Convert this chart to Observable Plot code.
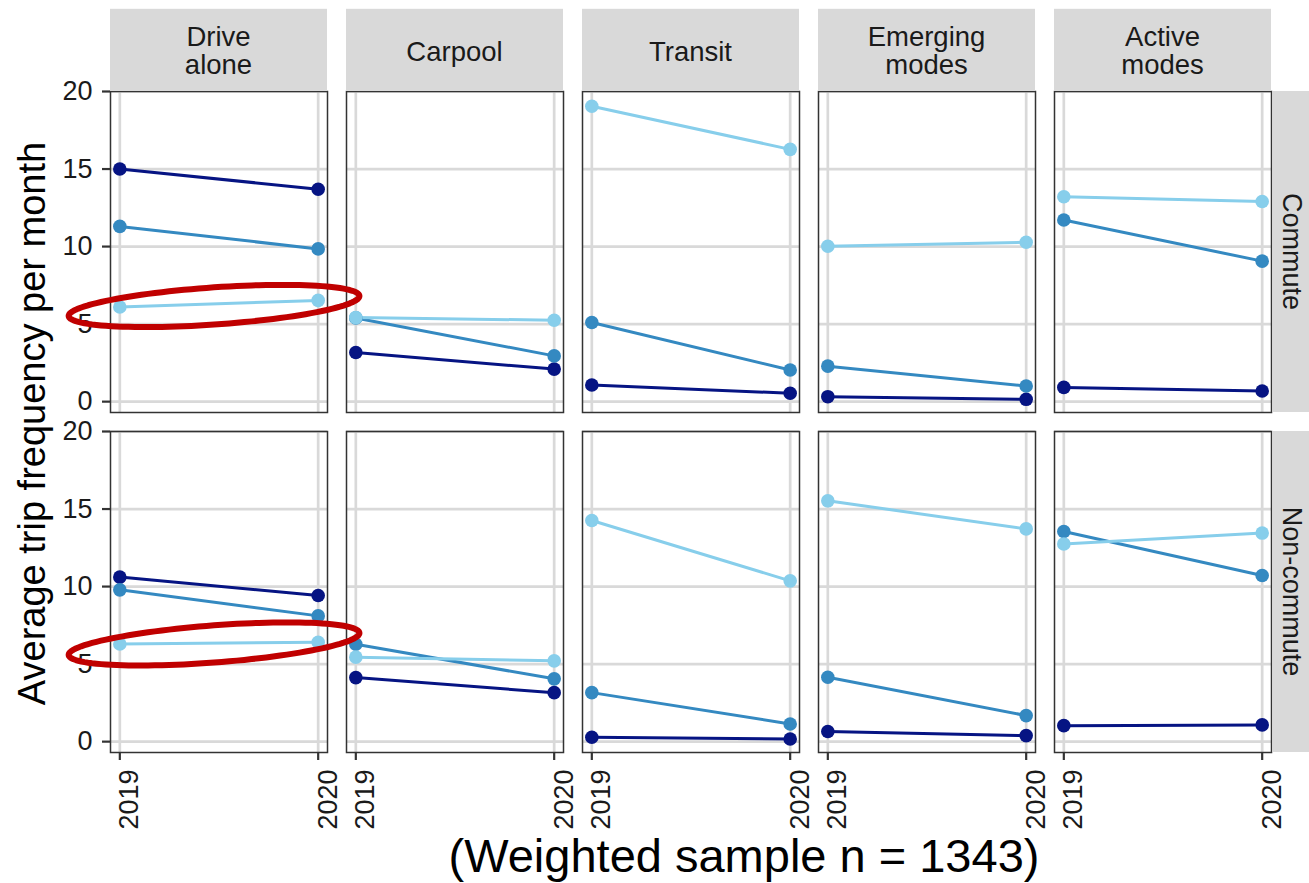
<!DOCTYPE html>
<html>
<head>
<meta charset="utf-8">
<script src="https://cdn.jsdelivr.net/npm/d3@7"></script>
<script src="https://cdn.jsdelivr.net/npm/@observablehq/plot@0.6"></script>
<style>
html, body { margin: 0; padding: 0; background: #ffffff; }
#chart { width: 1309px; height: 883px; overflow: hidden; }
</style>
</head>
<body>
<div id="chart"></div>
<script>
// ---------- data ----------
const modes = ["Drive alone", "Carpool", "Transit", "Emerging modes", "Active modes"];
const modeLabels = [["Drive", "alone"], ["Carpool"], ["Transit"], ["Emerging", "modes"], ["Active", "modes"]];
const tripTypes = ["Commute", "Non-commute"];
const years = [2019, 2020];
const yTicks = [0, 5, 10, 15, 20];
const groups = ["Group 1", "Group 2", "Group 3"];
const groupColors = ["#061483", "#3489c1", "#87ceeb"];

// values per mode: [2019, 2020]
const commuteG1 = [[15.0, 13.7], [3.17, 2.1], [1.07, 0.54], [0.32, 0.15], [0.92, 0.69]];
const commuteG2 = [[11.3, 9.85], [5.4, 2.95], [5.1, 2.04], [2.29, 1.01], [11.71, 9.06]];
const commuteG3 = [[6.1, 6.53], [5.42, 5.25], [19.05, 16.27], [10.02, 10.28], [13.21, 12.91]];
const nonCommuteG1 = [[10.61, 9.42], [4.13, 3.16], [0.28, 0.17], [0.65, 0.39], [1.03, 1.08]];
const nonCommuteG2 = [[9.79, 8.11], [6.28, 4.05], [3.16, 1.14], [4.15, 1.68], [13.55, 10.71]];
const nonCommuteG3 = [[6.3, 6.41], [5.45, 5.21], [14.26, 10.37], [15.53, 13.72], [12.75, 13.45]];

// red highlight ellipses (annotation), in data units of the "Drive alone" panels
const ellipseTypes = ["Commute", "Non-commute"];
const ellipseCenterYear = [2019.475, 2019.475];
const ellipseCenterValue = [6.17, 6.3];
const ellipseHalfYears = [0.733, 0.733];
const ellipseHalfValue = [1.2, 1.2];
const ellipseTilt = [0.874, 0.957];

const seriesTable = {
  "Commute": [commuteG1, commuteG2, commuteG3],
  "Non-commute": [nonCommuteG1, nonCommuteG2, nonCommuteG3]
};

const data = [];
tripTypes.forEach(type => {
  groups.forEach((g, gi) => {
    modes.forEach((m, mi) => {
      years.forEach((yr, yi) => {
        data.push({type, group: g, mode: m, year: yr, value: seriesTable[type][gi][mi][yi]});
      });
    });
  });
});

const ellipseData = [];
ellipseTypes.forEach((type, i) => {
  const N = 120;
  for (let k = 0; k <= N; k++) {
    const t = (2 * Math.PI * k) / N;
    const dxYear = ellipseHalfYears[i] * Math.cos(t);
    ellipseData.push({
      type,
      mode: "Drive alone",
      year: ellipseCenterYear[i] + dxYear,
      value: ellipseCenterValue[i] + ellipseHalfValue[i] * Math.sin(t) + ellipseTilt[i] * dxYear
    });
  }
});

// ---------- chart ----------
const FONT = '"Liberation Sans", Arial, Helvetica, sans-serif';
const TEXT = "#1a1a1a";

const chart = Plot.plot({
  width: 1309,
  height: 883,
  marginLeft: 109,
  marginRight: 35.7,
  marginTop: 90.5,
  marginBottom: 130.3,
  style: {fontFamily: FONT, background: "#ffffff", overflow: "visible"},
  fx: {domain: modes, paddingInner: 0.0786, paddingOuter: 0, axis: null, label: null},
  fy: {domain: tripTypes, paddingInner: 0.0564, paddingOuter: 0, axis: null, label: null},
  x: {domain: [2018.953, 2020.047], label: null},
  y: {domain: [-0.7, 20], label: null},
  color: {domain: groups, range: groupColors},
  marks: [
    Plot.gridY(yTicks, {stroke: "#d9d9d9", strokeOpacity: 1, strokeWidth: 2.7}),
    Plot.gridX(years, {stroke: "#d9d9d9", strokeOpacity: 1, strokeWidth: 2.7}),
    Plot.line(data, {x: "year", y: "value", z: "group", stroke: "group", fx: "mode", fy: "type", strokeWidth: 3}),
    Plot.dot(data, {x: "year", y: "value", fill: "group", fx: "mode", fy: "type", r: 6.8}),
    Plot.frame({stroke: "#333333", strokeWidth: 1.5}),
    Plot.axisY(yTicks, {tickSize: 8, tickPadding: 10, fontSize: 27, color: TEXT, stroke: "#333333", strokeWidth: 2.2, label: null}),
    // x tick marks
    Plot.axisX(years, {tickSize: 8, tickFormat: () => "", fontSize: 27, color: TEXT, stroke: "#333333", strokeWidth: 2.2, label: null}),
    // x tick labels, rotated
    Plot.axisX(years, {tickSize: 0, tickPadding: 17, tickRotate: -90, fontSize: 27, color: TEXT, label: null, tickFormat: d => String(d), dx: 10}),
    Plot.line(ellipseData, {x: "year", y: "value", z: "type", fx: "mode", fy: "type", stroke: "#c00000", strokeWidth: 6, curve: "linear-closed"})
  ]
});

document.getElementById("chart").appendChild(chart);

// ---------- strips & titles ----------
const svg = d3.select(chart);
const fxS = chart.scale("fx");
const fyS = chart.scale("fy");
const bw = fxS.bandwidth;
const bh = fyS.bandwidth;
const panelTop = fyS.apply(tripTypes[0]);
const stripH = 82.2;

const stripG = svg.append("g").attr("font-family", FONT);
modes.forEach((m, i) => {
  const x0 = fxS.apply(m);
  stripG.append("rect").attr("x", x0).attr("y", panelTop - stripH).attr("width", bw).attr("height", stripH).attr("fill", "#d9d9d9");
  const lines = modeLabels[i];
  const baselines = lines.length === 1 ? [panelTop - 29.8] : [panelTop - 45.5, panelTop - 17.2];
  lines.forEach((ln, j) => {
    stripG.append("text").attr("x", x0 + bw / 2).attr("y", baselines[j]).attr("text-anchor", "middle")
      .attr("font-size", 27.5).attr("fill", TEXT).text(ln);
  });
});
const rightX = fxS.apply(modes[modes.length - 1]) + bw + 1.2;
tripTypes.forEach(t => {
  const y0 = fyS.apply(t);
  stripG.append("rect").attr("x", rightX).attr("y", y0).attr("width", 40).attr("height", bh).attr("fill", "#d9d9d9");
  stripG.append("text").attr("transform", `translate(${rightX + 11},${y0 + bh / 2}) rotate(90)`)
    .attr("text-anchor", "middle").attr("font-size", 27).attr("fill", TEXT).text(t);
});

const panelBottom = fyS.apply(tripTypes[1]) + bh;
svg.append("text").attr("transform", `translate(45,${(panelTop + panelBottom) / 2 + 2}) rotate(-90)`)
  .attr("text-anchor", "middle").attr("font-size", 38).attr("font-family", FONT).attr("fill", "#000").text("Average trip frequency per month");
svg.append("text").attr("x", 744).attr("y", 872).attr("text-anchor", "middle")
  .attr("font-size", 47).attr("font-family", FONT).attr("fill", "#000").text("(Weighted sample n = 1343)");

// bring highlight ellipses to the front
chart.querySelectorAll('[stroke="#c00000"]').forEach(el => {
  let n = el;
  while (n.parentNode && n.parentNode !== chart) n = n.parentNode;
  if (n.parentNode === chart) chart.appendChild(n);
});
</script>
</body>
</html>
